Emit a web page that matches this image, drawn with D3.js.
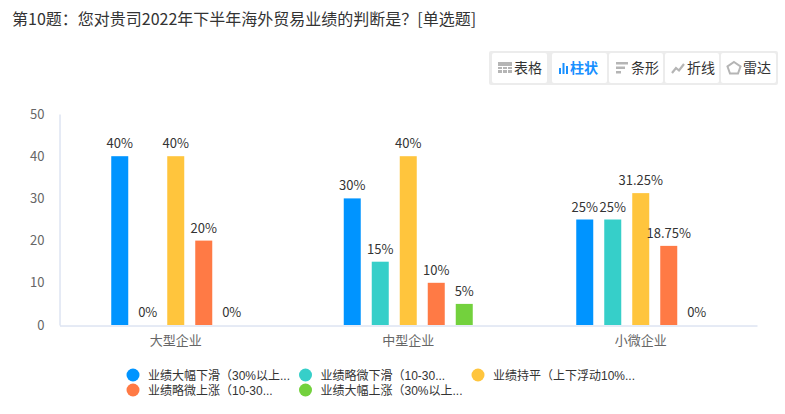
<!DOCTYPE html>
<html>
<head>
<meta charset="utf-8">
<script src="https://cdn.jsdelivr.net/npm/d3@7"></script>
<style>
  body { margin: 0; background: #fff; }
  text { font-family: "Microsoft YaHei", "Noto Sans CJK SC", sans-serif; }
  .leg text { font-family: "Liberation Sans", "Noto Sans CJK SC", sans-serif; }
</style>
</head>
<body>
<div id="chart-area"></div>
<script>
// chart data
var categories = ["大型企业", "中型企业", "小微企业"]
var seriesNames = ["业绩大幅下滑（30%以上...", "业绩略微下滑（10-30...", "业绩持平（上下浮动10%...",
  "业绩略微上涨（10-30...", "业绩大幅上涨（30%以上..."]
var seriesColors = ["#0094ff", "#36cfc9", "#ffc53d", "#ff7a45", "#73d13d"]
var bigDrop = [40, 30, 25]
var smallDrop = [0, 15, 25]
var flat = [40, 40, 31.25]
var smallRise = [20, 10, 18.75]
var bigRise = [0, 5, 0]
var yTicks = [0, 10, 20, 30, 40, 50]

var allSeries = [bigDrop, smallDrop, flat, smallRise, bigRise]

var svg = d3.select("#chart-area")
  .append("svg")
  .attr("width", 785)
  .attr("height", 414)

// title
svg.append("text")
  .attr("x", 12)
  .attr("y", 25)
  .attr("font-size", 16)
  .attr("fill", "#333")
  .text("第10题：您对贵司2022年下半年海外贸易业绩的判断是？[单选题]")

// toolbar (table / bar / horizontal / line / radar)
var tools = [
  { name: "表格", x: 492, w: 55 },
  { name: "柱状", x: 552, w: 55, active: true },
  { name: "条形", x: 609, w: 54 },
  { name: "折线", x: 665, w: 54 },
  { name: "雷达", x: 721, w: 55 }
]
svg.append("rect")
  .attr("x", 489).attr("y", 51)
  .attr("width", 289).attr("height", 34)
  .attr("rx", 2)
  .attr("fill", "#ececec")

var tb = svg.selectAll("g.tool")
  .data(tools)
  .enter()
  .append("g")
  .attr("class", "tool")
  .attr("transform", function(d) { return "translate(" + d.x + ",53)" })

tb.append("rect")
  .attr("width", function(d) { return d.w })
  .attr("height", 30)
  .attr("rx", 2)
  .attr("fill", "#fff")

tb.append("text")
  .attr("x", function(d, i) { return i == 1 ? 18 : 22 })
  .attr("y", 20)
  .attr("font-size", 14)
  .attr("font-weight", function(d) { return d.active ? "bold" : "normal" })
  .attr("fill", function(d) { return d.active ? "#1890ff" : "#333" })
  .text(function(d) { return d.name })

var ic = "#b5b5b5"
// table icon
var g0 = tb.filter(function(d, i) { return i == 0 })
g0.append("rect").attr("x", 6).attr("y", 9).attr("width", 14).attr("height", 11).attr("fill", ic)
g0.append("path").attr("d", "M6,13.5H20M6,16.5H20M10.5,13V20M15.5,13V20").attr("stroke", "#fff").attr("stroke-width", 1)
// bar icon
var g1 = tb.filter(function(d, i) { return i == 1 })
g1.append("path").attr("d", "M7,15h2v6h-2zM10.5,10h2v11h-2zM14,13h2v8h-2z").attr("fill", "#1890ff")
// horizontal bar icon
var g2 = tb.filter(function(d, i) { return i == 2 })
g2.append("path").attr("d", "M7,9h12v2.5h-12zM7,13.5h9v2.5h-9zM7,18h5v2.5h-5z").attr("fill", ic)
// line icon
var g3 = tb.filter(function(d, i) { return i == 3 })
g3.append("path").attr("d", "M7,20L11,15L14,17.5L19,11").attr("fill", "none").attr("stroke", ic).attr("stroke-width", 2.2)
// radar icon
var g4 = tb.filter(function(d, i) { return i == 4 })
g4.append("path").attr("d", "M13,9L19.5,13.5L17,20.5H9L6.5,13.5Z").attr("fill", "none").attr("stroke", ic).attr("stroke-width", 2)

// scales
var y = d3.scaleLinear()
  .domain([0, 50])
  .range([325, 114])

var x0 = d3.scaleBand()
  .domain(categories)
  .range([59.5, 757])

var x1 = d3.scaleBand()
  .domain(d3.range(allSeries.length))
  .range([0, 129])
  .paddingInner(11 / 28)

var offset = (x0.bandwidth() - 129) / 2

// y axis
var yAxis = d3.axisLeft(y).tickValues(yTicks).tickSize(0).tickPadding(15)
var yg = svg.append("g")
  .attr("transform", "translate(59.5,0)")
  .call(yAxis)
yg.select(".domain").attr("stroke", "#ccd6eb")
yg.selectAll("text")
  .attr("font-size", 13)
  .attr("fill", "#666")
  .attr("font-family", "'Microsoft YaHei', 'Noto Sans CJK SC', sans-serif")

// x axis
var xAxis = d3.axisBottom(x0).tickSize(0).tickPadding(10)
var xg = svg.append("g")
  .attr("transform", "translate(0,325.5)")
  .call(xAxis)
xg.select(".domain").attr("stroke", "#ccd6eb")
xg.selectAll("text")
  .attr("font-size", 13)
  .attr("fill", "#666")
  .attr("font-family", "'Microsoft YaHei', 'Noto Sans CJK SC', sans-serif")

// bars
var groups = svg.selectAll("g.cat")
  .data(categories)
  .enter()
  .append("g")
  .attr("class", "cat")
  .attr("transform", function(d) { return "translate(" + (x0(d) + offset) + ",0)" })

groups.selectAll("rect")
  .data(function(d, ci) {
    return allSeries.map(function(s, si) { return { s: si, v: s[ci] } })
  })
  .enter()
  .append("rect")
  .attr("x", function(d) { return x1(d.s) })
  .attr("y", function(d) { return y(d.v) })
  .attr("width", x1.bandwidth())
  .attr("height", function(d) { return y(0) - y(d.v) })
  .attr("fill", function(d) { return seriesColors[d.s] })

groups.selectAll("text.lbl")
  .data(function(d, ci) {
    return allSeries.map(function(s, si) { return { s: si, v: s[ci] } })
  })
  .enter()
  .append("text")
  .attr("class", "lbl")
  .attr("x", function(d) { return x1(d.s) + x1.bandwidth() / 2 })
  .attr("y", function(d) { return y(d.v) - 8 })
  .attr("text-anchor", "middle")
  .attr("font-size", 13)
  .attr("fill", "#333")
  .text(function(d) { return d.v + "%" })

// legend
var legend = svg.selectAll("g.leg")
  .data(seriesNames)
  .enter()
  .append("g")
  .attr("class", "leg")
  .attr("transform", function(d, i) {
    return "translate(" + (133 + (i % 3) * 172.5) + "," + (375 + Math.floor(i / 3) * 15) + ")"
  })

legend.append("circle")
  .attr("r", 6.5)
  .attr("fill", function(d, i) { return seriesColors[i] })

legend.append("text")
  .attr("x", 15)
  .attr("y", 4.5)
  .attr("font-size", 12)
  .attr("fill", "#333")
  .text(function(d) { return d })
</script>
</body>
</html>
